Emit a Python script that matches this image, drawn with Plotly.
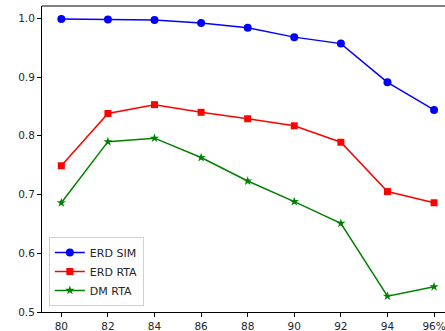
import plotly.graph_objects as go

x_vals = [80, 82, 84, 86, 88, 90, 92, 94, 96]
x_labels = ["80", "82", "84", "86", "88", "90", "92", "94", "96%"]
erd_sim = [0.999, 0.998, 0.997, 0.992, 0.984, 0.968, 0.957, 0.891, 0.844]
erd_rta = [0.749, 0.838, 0.853, 0.840, 0.829, 0.817, 0.789, 0.705, 0.686]
dm_rta = [0.686, 0.790, 0.796, 0.763, 0.723, 0.688, 0.651, 0.527, 0.543]
y_ticks = [0.5, 0.6, 0.7, 0.8, 0.9, 1.0]

fig = go.Figure()
fig.add_trace(go.Scatter(x=x_vals, y=erd_sim, mode="lines+markers", name="ERD SIM",
                         line=dict(color="#0000ff", width=1.5),
                         marker=dict(symbol="circle", size=8, color="#0000ff")))
fig.add_trace(go.Scatter(x=x_vals, y=erd_rta, mode="lines+markers", name="ERD RTA",
                         line=dict(color="#ff0000", width=1.5),
                         marker=dict(symbol="square", size=7, color="#ff0000")))
fig.add_trace(go.Scatter(x=x_vals, y=dm_rta, mode="lines+markers", name="DM RTA",
                         line=dict(color="#008000", width=1.5),
                         marker=dict(symbol="star", size=7, color="#008000")))

fig.update_layout(
    width=445, height=331,
    margin=dict(l=42, r=0, t=6, b=19),
    paper_bgcolor="white", plot_bgcolor="white",
    font=dict(family="DejaVu Sans", size=10.5, color="#262626"),
    showlegend=True,
    legend=dict(x=0.017, y=0.02, xanchor="left", yanchor="bottom",
                bgcolor="rgba(255,255,255,0.8)", bordercolor="#d0d0d0", borderwidth=1,
                font=dict(size=11), itemwidth=30, tracegroupgap=0),
    xaxis=dict(range=[79.17, 96.47], tickmode="array", tickvals=x_vals, ticktext=x_labels,
               showgrid=False, zeroline=False, showline=True, linecolor="black", linewidth=1,
               ticks="outside", ticklen=4, tickcolor="black", ticklabeloverflow="allow"),
    yaxis=dict(range=[0.5, 1.021], tickmode="array", tickvals=y_ticks,
               ticktext=[f"{v:.1f}" for v in y_ticks],
               showgrid=False, zeroline=False, showline=True, linecolor="black", linewidth=1,
               ticks="outside", ticklen=4, tickcolor="black"),
    shapes=[dict(type="line", xref="paper", yref="paper", x0=0, x1=1, y0=1, y1=1,
                 line=dict(color="black", width=1))],
)

fig.write_html("out.html", config={"displayModeBar": False},
               post_script="document.body.style.margin='0';document.body.style.overflow='hidden';")
